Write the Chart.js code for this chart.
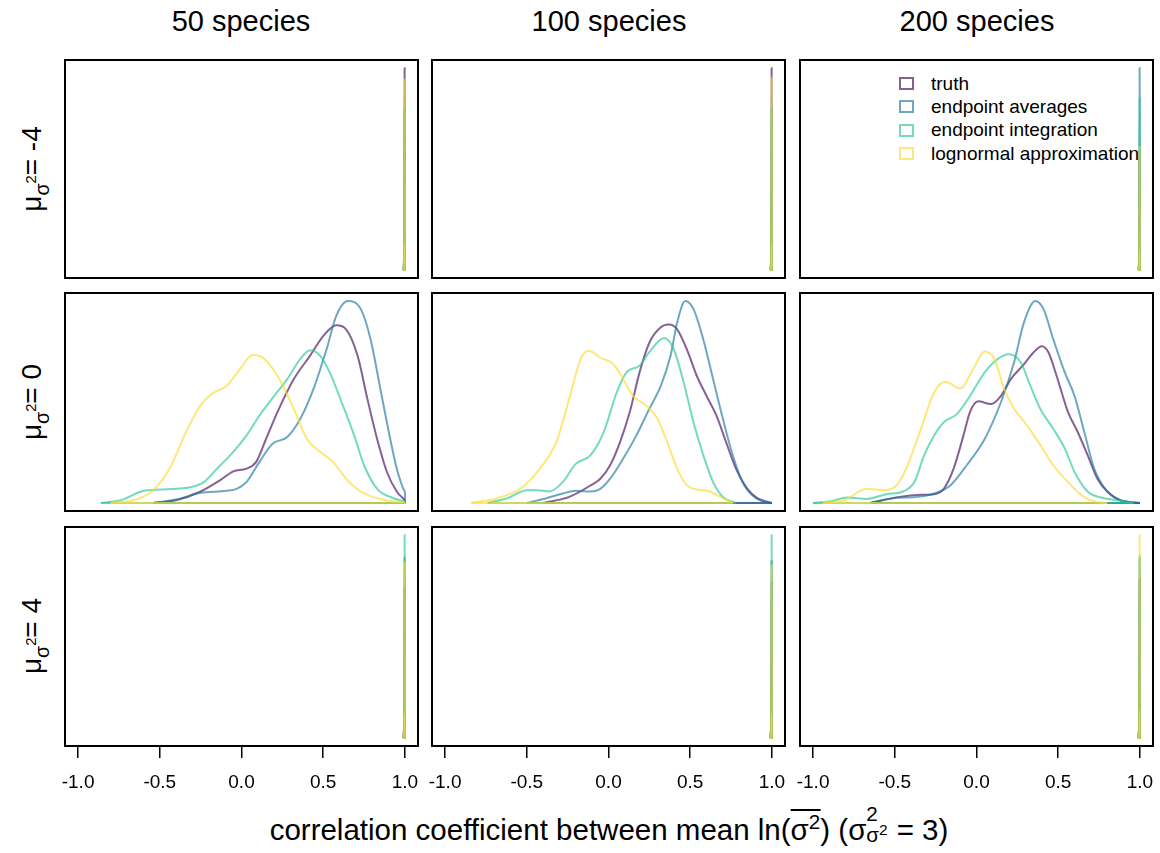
<!DOCTYPE html>
<html>
<head>
<meta charset="utf-8">
<script src="https://cdn.jsdelivr.net/npm/chart.js@4.4.1/dist/chart.umd.min.js"></script>
<style>
  body { margin: 0; background: #fff; width: 1160px; height: 853px; position: relative; overflow: hidden;
         font-family: "Liberation Sans", Arial, sans-serif; color: #000; }
  .panel { position: absolute; }
  .coltitle { position: absolute; top: 7px; font-size: 29px; line-height: 1; white-space: nowrap; transform: translateX(-50%); }
  .rowlab { position: absolute; font-size: 28px; line-height: 1; white-space: nowrap; transform: translate(-50%, -50%) rotate(-90deg); }
  .sb { font-size: 0.7em; position: relative; top: 0.4em; }
  .sp { font-size: 0.75em; position: relative; top: -0.9em; }
  .xtitle { position: absolute; left: 609px; top: 810px; font-size: 29.5px; line-height: 1; white-space: nowrap; transform: translateX(-50%); }
  .ovl { display: inline-block; border-top: 2px solid #000; line-height: 1; padding-top: 1px; margin-top: -4px; }
  .ss { display: inline-block; position: relative; width: 0.75em; height: 1em; }
  .ss .t { position: absolute; left: 0; top: -0.3em; font-size: 0.7em; }
  .ss .b { position: absolute; left: 0; top: 0.75em; font-size: 0.7em; }
  .legend { position: absolute; left: 899px; top: 72px; font-size: 19px; }
  .legend .row { height: 23.3px; display: flex; align-items: center; }
  .legend .box { width: 11px; height: 9px; border: 2px solid; margin-right: 17px; }
</style>
</head>
<body>
<div class="coltitle" style="left:241px">50 species</div>
<div class="coltitle" style="left:609px">100 species</div>
<div class="coltitle" style="left:977px">200 species</div>

<div class="rowlab" style="left:32px;top:169px">μ<span class="sb">σ<span class="sp">2</span></span>= -4</div>
<div class="rowlab" style="left:32px;top:402px">μ<span class="sb">σ<span class="sp">2</span></span>= 0</div>
<div class="rowlab" style="left:32px;top:636px">μ<span class="sb">σ<span class="sp">2</span></span>= 4</div>

<div class="xtitle">correlation coefficient between mean ln(<span class="ovl">σ<sup style="font-size:0.7em">2</sup></span>) (σ<span class="ss"><span class="t">2</span><span class="b">σ<span style="font-size:0.75em;position:relative;top:-0.5em">2</span></span></span> = 3)</div>

<div id="legend" class="legend"></div>

<script>
// series order / names
const seriesNames = ['truth', 'endpoint averages', 'endpoint integration', 'lognormal approximation'];
const seriesColors = ['rgba(70,10,90,0.65)', 'rgba(30,120,160,0.65)', 'rgba(40,200,150,0.65)', 'rgba(250,220,50,0.65)'];

const columns = ['50 species', '100 species', '200 species'];
const xTicks = [-1.0, -0.5, 0.0, 0.5, 1.0];

// mu = 0 row: density curves, [correlation, density]
const truth_0_50 = [[-0.54,0],[-0.40,0.04],[-0.25,0.17],[-0.13,0.34],[-0.05,0.47],[0.03,0.51],[0.09,0.61],[0.15,0.95],[0.22,1.35],[0.32,1.84],[0.42,2.19],[0.50,2.48],[0.58,2.64],[0.64,2.58],[0.71,2.19],[0.77,1.55],[0.83,0.95],[0.89,0.46],[0.95,0.17],[1.00,0.04]];
const avg_0_50 = [[-0.54,0],[-0.40,0.05],[-0.25,0.15],[-0.09,0.18],[-0.03,0.21],[0.03,0.31],[0.11,0.61],[0.19,0.88],[0.28,0.98],[0.36,1.25],[0.44,1.69],[0.52,2.28],[0.58,2.78],[0.65,3.00],[0.73,2.88],[0.79,2.43],[0.85,1.69],[0.91,0.95],[0.95,0.51],[0.99,0.21],[1.00,0.17]];
const integ_0_50 = [[-0.86,0],[-0.74,0.04],[-0.60,0.18],[-0.50,0.20],[-0.40,0.21],[-0.30,0.24],[-0.23,0.31],[-0.15,0.51],[-0.05,0.76],[0.03,1.00],[0.11,1.30],[0.20,1.59],[0.28,1.84],[0.36,2.14],[0.42,2.27],[0.48,2.19],[0.54,1.94],[0.62,1.45],[0.69,1.00],[0.75,0.56],[0.83,0.21],[0.93,0.07],[1.00,0.02]];
const logn_0_50 = [[-0.80,0],[-0.66,0.04],[-0.54,0.19],[-0.44,0.51],[-0.34,1.05],[-0.25,1.45],[-0.17,1.64],[-0.09,1.74],[-0.01,1.99],[0.07,2.20],[0.13,2.16],[0.22,1.89],[0.32,1.40],[0.40,0.95],[0.48,0.76],[0.56,0.61],[0.64,0.36],[0.73,0.17],[0.83,0.07],[0.93,0.02],[1.00,0.01]];

const truth_0_100 = [[-0.40,0],[-0.24,0.09],[-0.11,0.26],[-0.05,0.36],[0.01,0.56],[0.07,0.90],[0.13,1.35],[0.19,1.94],[0.25,2.38],[0.32,2.61],[0.37,2.65],[0.42,2.58],[0.48,2.28],[0.54,1.89],[0.60,1.59],[0.66,1.30],[0.72,0.90],[0.78,0.51],[0.85,0.21],[0.91,0.07],[1.00,0]];
const avg_0_100 = [[-0.50,0],[-0.38,0.07],[-0.28,0.14],[-0.20,0.18],[-0.11,0.17],[-0.05,0.21],[0.01,0.36],[0.09,0.66],[0.17,1.00],[0.25,1.40],[0.32,1.74],[0.38,2.19],[0.42,2.68],[0.47,3.00],[0.52,2.88],[0.58,2.43],[0.64,1.84],[0.70,1.25],[0.76,0.71],[0.82,0.31],[0.89,0.09],[0.95,0.02],[1.00,0]];
const integ_0_100 = [[-0.74,0],[-0.62,0.07],[-0.50,0.19],[-0.44,0.19],[-0.36,0.17],[-0.28,0.31],[-0.20,0.58],[-0.11,0.71],[-0.03,1.05],[0.05,1.64],[0.11,1.94],[0.19,2.04],[0.25,2.24],[0.34,2.45],[0.40,2.28],[0.46,1.79],[0.52,1.20],[0.58,0.71],[0.64,0.31],[0.70,0.09],[0.78,0]];
const logn_0_100 = [[-0.84,0],[-0.68,0.07],[-0.54,0.21],[-0.42,0.51],[-0.32,0.90],[-0.24,1.55],[-0.17,2.14],[-0.12,2.26],[-0.05,2.16],[0.03,2.06],[0.09,1.84],[0.15,1.59],[0.23,1.45],[0.30,1.25],[0.36,0.90],[0.42,0.51],[0.48,0.26],[0.54,0.20],[0.62,0.17],[0.70,0.07],[0.76,0]];

const truth_0_200 = [[-0.65,0],[-0.47,0.09],[-0.34,0.12],[-0.26,0.13],[-0.20,0.21],[-0.14,0.51],[-0.08,1.00],[-0.04,1.35],[0.01,1.51],[0.09,1.47],[0.15,1.59],[0.21,1.84],[0.29,2.06],[0.35,2.24],[0.40,2.33],[0.44,2.24],[0.49,1.89],[0.56,1.35],[0.62,1.05],[0.68,0.71],[0.74,0.36],[0.80,0.17],[0.88,0.04],[1.00,0]];
const avg_0_200 = [[-0.65,0],[-0.51,0.07],[-0.36,0.09],[-0.26,0.14],[-0.16,0.26],[-0.06,0.56],[0.05,0.95],[0.15,1.50],[0.23,2.09],[0.29,2.68],[0.36,3.00],[0.41,2.88],[0.47,2.43],[0.54,1.94],[0.60,1.59],[0.66,1.05],[0.72,0.51],[0.80,0.17],[0.88,0.04],[1.00,0]];
const integ_0_200 = [[-1.00,0],[-0.90,0.02],[-0.79,0.08],[-0.67,0.06],[-0.55,0.13],[-0.45,0.17],[-0.38,0.31],[-0.32,0.71],[-0.26,1.00],[-0.20,1.20],[-0.12,1.32],[-0.04,1.59],[0.05,1.94],[0.13,2.14],[0.20,2.21],[0.27,2.09],[0.33,1.74],[0.39,1.40],[0.47,1.10],[0.54,0.81],[0.60,0.46],[0.68,0.17],[0.76,0.08],[0.86,0.04],[0.96,0]];
const logn_0_200 = [[-0.94,0],[-0.81,0.04],[-0.67,0.21],[-0.57,0.19],[-0.49,0.26],[-0.43,0.51],[-0.34,1.10],[-0.26,1.64],[-0.19,1.80],[-0.10,1.70],[-0.02,1.99],[0.05,2.25],[0.11,2.14],[0.17,1.69],[0.23,1.40],[0.31,1.15],[0.39,0.86],[0.47,0.56],[0.56,0.31],[0.64,0.12],[0.72,0.02],[0.80,0]];

// mu = -4 and mu = 4 rows: all mass piled up just below 1
const spikeX = [0.990, 0.995, 0.997, 0.998, 0.999, 1.000];
const spike_m4_50  = { truth: [0,18,160,310,230,40], avg: [0,25,170,245,180,30], integ: [0,22,165,251,190,35], logn: [0,20,170,293,220,38] };
const spike_m4_100 = { truth: [0,15,150,315,240,45], avg: [0,20,160,250,190,30], integ: [0,18,158,255,195,32], logn: [0,16,162,300,228,40] };
const spike_m4_200 = { truth: [0,15,140,190,150,30], avg: [0,12,150,320,250,50], integ: [0,14,150,272,210,40], logn: [0,14,138,195,150,30] };
const spike_p4_50  = { truth: [0,22,140,222,170,30], avg: [0,20,150,267,200,35], integ: [0,18,160,300,230,40], logn: [0,18,150,260,200,35] };
const spike_p4_100 = { truth: [0,20,140,230,175,30], avg: [0,20,150,262,200,35], integ: [0,18,160,300,230,40], logn: [0,18,150,255,195,35] };
const spike_p4_200 = { truth: [0,20,140,235,180,30], avg: [0,20,150,265,200,35], integ: [0,18,150,270,205,35], logn: [0,18,160,300,230,40] };

function spikeSeries(s) {
  return [s.truth, s.avg, s.integ, s.logn].map(ys => ys.map((y, i) => [spikeX[i], y]));
}

const grid = [
  [spikeSeries(spike_m4_50), spikeSeries(spike_m4_100), spikeSeries(spike_m4_200)],
  [[truth_0_50, avg_0_50, integ_0_50, logn_0_50], [truth_0_100, avg_0_100, integ_0_100, logn_0_100], [truth_0_200, avg_0_200, integ_0_200, logn_0_200]],
  [spikeSeries(spike_p4_50), spikeSeries(spike_p4_100), spikeSeries(spike_p4_200)]
];

// panel boxes (plot regions)
const colLeft = [65, 432, 800];
const rowTop = [60, 293, 527];
const panelW = 353, panelH = 218;
const pad = 6, axisH = 45;

const boxPlugin = {
  id: 'box',
  afterDraw(chart) {
    const a = chart.chartArea, ctx = chart.ctx;
    ctx.save();
    ctx.strokeStyle = '#000';
    ctx.lineWidth = 2;
    ctx.strokeRect(a.left, a.top, a.right - a.left, a.bottom - a.top);
    ctx.restore();
  }
};

function makePanel(r, c) {
  const bottom = r === 2;
  const div = document.createElement('div');
  div.className = 'panel';
  const w = panelW + 2 * pad, h = panelH + 2 * pad + (bottom ? axisH : 0);
  div.style.left = (colLeft[c] - pad) + 'px';
  div.style.top = (rowTop[r] - pad) + 'px';
  const cv = document.createElement('canvas');
  cv.width = w; cv.height = h;
  cv.style.width = w + 'px'; cv.style.height = h + 'px';
  div.appendChild(cv);
  document.body.appendChild(div);

  const series = grid[r][c];
  const top = Math.max(...series.flat().map(p => p[1]));
  const datasets = [];
  series.forEach((pts, i) => {
    const first = pts[0], last = pts[pts.length - 1];
    datasets.push({
      data: pts.map(p => ({ x: p[0], y: p[1] })),
      borderColor: seriesColors[i], borderWidth: 2, pointRadius: 0,
      cubicInterpolationMode: 'monotone', fill: false, order: 10 - i
    });
    // polygon closing: drop to zero and run back along the baseline
    datasets.push({
      data: [{ x: last[0], y: last[1] }, { x: last[0], y: 0 }, { x: first[0], y: 0 }],
      borderColor: seriesColors[i], borderWidth: 2, pointRadius: 0, tension: 0, fill: false, order: 10 - i
    });
  });

  new Chart(cv, {
    type: 'line',
    data: { datasets },
    options: {
      responsive: false, animation: false, devicePixelRatio: 1,
      layout: { padding: { left: pad, right: pad, top: pad, bottom: bottom ? pad - 1 : pad } },
      plugins: { legend: { display: false }, tooltip: { enabled: false } },
      scales: {
        x: {
          type: 'linear', min: -1.08, max: 1.08, display: bottom,
          afterBuildTicks: s => { s.ticks = xTicks.map(v => ({ value: v })); },
          afterFit: s => {
            if (bottom) s.height = axisH;
            s.paddingLeft = 0; s.paddingRight = 0;
          },
          grid: { display: true, drawOnChartArea: false, drawTicks: true, tickLength: 12, color: '#000', lineWidth: 1.5 },
          border: { display: false },
          ticks: { font: { family: 'Liberation Sans', size: 19 }, color: '#000', padding: 13,
                   maxRotation: 0, autoSkip: false, callback: v => Number(v).toFixed(1) }
        },
        y: { type: 'linear', display: false, min: -0.04 * top, max: 1.04 * top }
      }
    },
    plugins: [boxPlugin]
  });
}

for (let r = 0; r < 3; r++) for (let c = 0; c < 3; c++) makePanel(r, c);

// legend in the top-right panel
const legend = document.getElementById('legend');
seriesNames.forEach((name, i) => {
  const row = document.createElement('div');
  row.className = 'row';
  row.innerHTML = '<div class="box" style="border-color:' + seriesColors[i] + '"></div><span>' + name + '</span>';
  legend.appendChild(row);
});
</script>
</body>
</html>
